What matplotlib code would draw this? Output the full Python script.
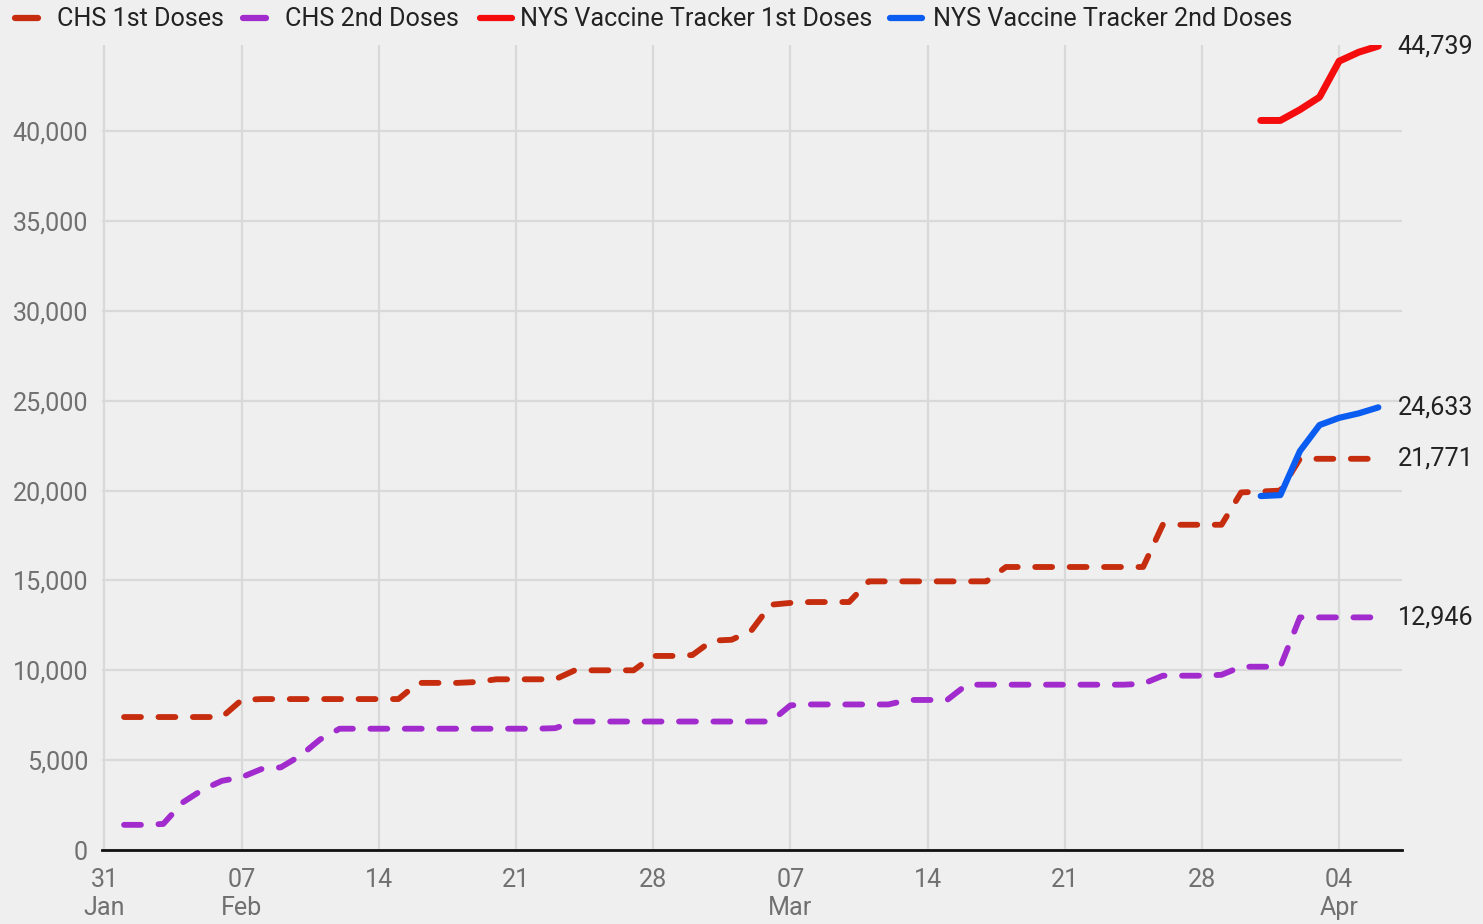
import matplotlib.pyplot as plt
import pandas as pd
from matplotlib.lines import Line2D

plt.rcParams["font.family"] = ["Roboto", "DejaVu Sans"]

# daily values
chs_dates = pd.date_range("2021-02-01", "2021-04-06")
chs_first = (
    [7400] * 6
    + [8350] + [8400] * 8
    + [9300, 9300, 9300, 9350]
    + [9500] * 4
    + [10000] * 4
    + [10800, 10800, 10850]
    + [11650, 11700]
    + [12200]
    + [13650, 13750, 13800, 13800, 13800]
    + [14950] * 7
    + [15750] * 8
    + [18100] * 4
    + [19900, 19950, 20000]
    + [21771] * 5
)
chs_second = (
    [1400, 1400, 1450]
    + [2650, 3350, 3850, 4050, 4500, 4600, 5250, 6150]
    + [6750] * 11 + [6780]
    + [7150] * 11
    + [8050, 8100, 8100, 8100, 8100, 8100]
    + [8350] * 3
    + [9200] * 9 + [9250]
    + [9700, 9700, 9700, 9750]
    + [10200] * 3
    + [12946] * 5
)
nys_dates = pd.date_range("2021-03-31", "2021-04-06")
nys_first = [40600, 40600, 41200, 41900, 43900, 44400, 44739]
nys_second = [19700, 19750, 22200, 23650, 24050, 24300, 24633]

tick_dates = pd.date_range("2021-01-31", "2021-04-04", freq="7D")
tick_labels = ["31\nJan", "07\nFeb", "14", "21", "28", "07\nMar", "14", "21", "28", "04\nApr"]

legend_labels = ["CHS 1st Doses", "CHS 2nd Doses", "NYS Vaccine Tracker 1st Doses",
                 "NYS Vaccine Tracker 2nd Doses"]

c_first = "#c62d0f"
c_second = "#a22bce"
c_nys1 = "#f50d0d"
c_nys2 = "#0b5cf0"
bg = "#efefef"
W, H = 1483, 924
fs = 18.1

fig = plt.figure(figsize=(W / 100, H / 100), dpi=100, facecolor=bg)
ax = fig.add_axes([102 / W, 1 - 850 / H, 1300 / W, 805 / H], facecolor=bg)

dash = dict(lw=4.2, dashes=(2.9, 3.0), dash_capstyle="round", solid_joinstyle="round")
ax.plot(chs_dates, chs_first, color=c_first, **dash, zorder=3)
ax.plot(chs_dates, chs_second, color=c_second, **dash, zorder=3)
ax.plot(nys_dates, nys_first, color=c_nys1, lw=5, solid_capstyle="round",
        solid_joinstyle="round", zorder=4)
ax.plot(nys_dates, nys_second, color=c_nys2, lw=4.5, solid_capstyle="round",
        solid_joinstyle="round", zorder=4)

# end labels
for series, dates in [(chs_first, chs_dates), (chs_second, chs_dates),
                      (nys_first, nys_dates), (nys_second, nys_dates)]:
    ax.annotate(f"{series[-1]:,}", (dates[-1], series[-1]), xytext=(14, 0),
                textcoords="offset points", va="center", ha="left",
                fontsize=fs, color="#222222", annotation_clip=False)

ax.set_xlim(pd.Timestamp("2021-01-30 21:00"), pd.Timestamp("2021-04-07 05:00"))
ax.set_ylim(0, 44800)
ax.set_yticks(range(0, 45000, 5000))
ax.set_yticklabels([f"{v:,}" for v in range(0, 45000, 5000)])
ax.set_xticks(tick_dates)
ax.set_xticklabels(tick_labels, linespacing=1.2)
ax.tick_params(axis="both", length=0, labelsize=fs, labelcolor="#707070")
ax.tick_params(axis="y", pad=10)
ax.tick_params(axis="x", pad=13)

ax.grid(True, color="#d9d9d9", lw=1.6)
ax.set_axisbelow(True)
for s in ["left", "right", "top"]:
    ax.spines[s].set_visible(False)
ax.spines["bottom"].set_color("#111111")
ax.spines["bottom"].set_linewidth(2)

# legend laid out along the top like the original
legend_pos = [(15, 38, 57), (243, 266, 285), (480, 512, 520), (890, 922, 933)]
for (x0, x1, xt), c, lab in zip(legend_pos, [c_first, c_second, c_nys1, c_nys2], legend_labels):
    fig.add_artist(Line2D([x0 / W, x1 / W], [1 - 18 / H, 1 - 18 / H], color=c, lw=4.5,
                          solid_capstyle="round", transform=fig.transFigure))
    fig.text(xt / W, 1 - 19 / H, lab, fontsize=fs, color="#222222", va="center", ha="left")

fig.savefig("out.png", dpi=100, facecolor=bg)
